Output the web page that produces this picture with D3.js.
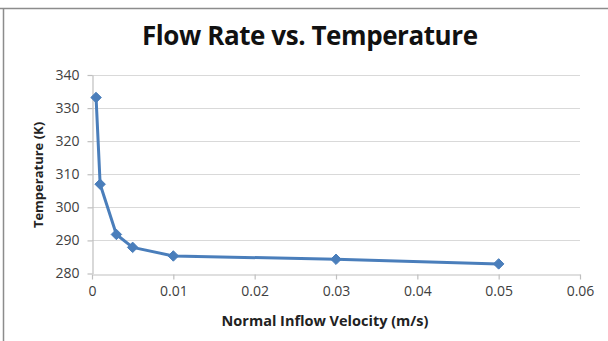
<!DOCTYPE html>
<html>
<head>
<meta charset="utf-8">
<script src="https://cdn.jsdelivr.net/npm/d3@7"></script>
<style>
  body { margin: 0; background: #fff; }
  svg { display: block; }
</style>
</head>
<body>
<script>
// values
const velocity = [0.0005, 0.001, 0.003, 0.005, 0.01, 0.03, 0.05];
const temperature = [333.2, 307, 291.8, 287.9, 285.3, 284.3, 282.9];
const xTicks = [0, 0.01, 0.02, 0.03, 0.04, 0.05, 0.06];
const yTicks = [280, 290, 300, 310, 320, 330, 340];

const W = 608, H = 341;
const svg = d3.select("body").append("svg").attr("width", W).attr("height", H)

// frame of the chart (only top and left edge are visible)
svg.append("line").attr("x1", 0).attr("x2", W).attr("y1", 8.5).attr("y2", 8.5)
    .attr("stroke", "#8c8c8c").attr("stroke-width", 1.5)
svg.append("line").attr("x1", 3.5).attr("x2", 3.5).attr("y1", 8).attr("y2", H)
    .attr("stroke", "#8c8c8c").attr("stroke-width", 1.5)

const x = d3.scaleLinear().domain([0, 0.06]).range([92, 580])
const y = d3.scaleLinear().domain([280, 340]).range([273.5, 75])

// gridlines
svg.append("g").selectAll("line")
    .data(yTicks.slice(1))
    .join("line")
    .attr("x1", x(0)).attr("x2", x(0.06))
    .attr("y1", d => Math.round(y(d)) + 0.5).attr("y2", d => Math.round(y(d)) + 0.5)
    .attr("stroke", "#d9d9d9").attr("stroke-width", 1.2)

// axes
svg.append("g").attr("transform", `translate(0,${Math.round(y(280)) + 0.5})`)
    .call(d3.axisBottom(x).tickValues(xTicks).tickFormat(d => d === 0 ? "0" : d3.format(".2f")(d)).tickSizeOuter(0).tickSizeInner(5).tickPadding(7))
svg.append("g").attr("transform", `translate(${x(0) + 0.5},0)`)
    .call(d3.axisLeft(y).tickValues(yTicks).tickSizeOuter(0).tickSizeInner(5).tickPadding(8))

svg.selectAll(".domain, .tick line").attr("stroke", "#bfbfbf").attr("stroke-width", 1.2)
svg.selectAll(".tick text")
    .attr("font-family", "'Open Sans', sans-serif")
    .attr("font-size", 14)
    .attr("fill", "#404040")

// series
const pts = velocity.map((v, i) => [v, temperature[i]])
svg.append("path")
    .datum(pts)
    .attr("fill", "none")
    .attr("stroke", "#4a7ebb")
    .attr("stroke-width", 3)
    .attr("stroke-linejoin", "round")
    .attr("d", d3.line().x(d => x(d[0])).y(d => y(d[1])))

svg.append("g").selectAll("path")
    .data(pts)
    .join("path")
    .attr("transform", d => `translate(${x(d[0])},${y(d[1])})`)
    .attr("d", d3.symbol(d3.symbolDiamond2, 70))
    .attr("fill", "#4a7ebb")
    .attr("stroke", "#4a7ebb")
    .attr("stroke-width", 1)

// texts
svg.append("text")
    .attr("x", 310).attr("y", 45)
    .attr("text-anchor", "middle")
    .attr("font-family", "'Open Sans', sans-serif")
    .attr("font-weight", "bold")
    .attr("font-size", 26)
    .attr("textLength", 336)
    .attr("fill", "#111")
    .text("Flow Rate vs. Temperature")

svg.append("text")
    .attr("x", 325).attr("y", 326)
    .attr("text-anchor", "middle")
    .attr("font-family", "'Open Sans', sans-serif")
    .attr("font-weight", "bold")
    .attr("font-size", 14.5)
    .attr("fill", "#222")
    .text("Normal Inflow Velocity (m/s)")

svg.append("text")
    .attr("transform", "translate(43,175) rotate(-90)")
    .attr("text-anchor", "middle")
    .attr("font-family", "'Open Sans', sans-serif")
    .attr("font-weight", "bold")
    .attr("font-size", 13)
    .attr("fill", "#222")
    .text("Temperature (K)")
</script>
</body>
</html>
